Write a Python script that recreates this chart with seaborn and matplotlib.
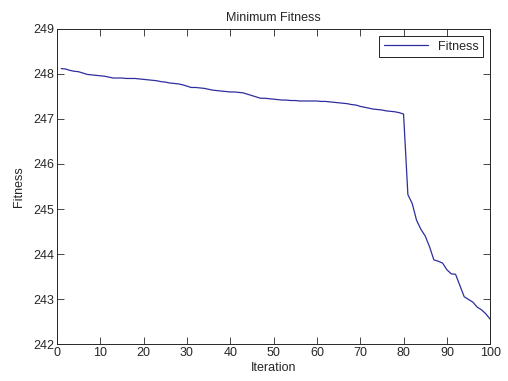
import numpy as np
import pandas as pd
import seaborn as sns
import matplotlib.pyplot as plt

# minimum fitness per iteration
iterations = list(range(1, 101))
fitness = [
    248.12, 248.11, 248.08, 248.06, 248.05, 248.02, 247.99, 247.98, 247.97, 247.96,
    247.95, 247.93, 247.91, 247.91, 247.91, 247.90, 247.90, 247.90, 247.89, 247.88,
    247.87, 247.86, 247.85, 247.83, 247.82, 247.80, 247.79, 247.78, 247.76, 247.73,
    247.70, 247.70, 247.69, 247.68, 247.66, 247.64, 247.63, 247.62, 247.61, 247.60,
    247.60, 247.59, 247.58, 247.55, 247.52, 247.49, 247.46, 247.46, 247.45, 247.44,
    247.43, 247.42, 247.42, 247.41, 247.41, 247.40, 247.40, 247.40, 247.40, 247.40,
    247.39, 247.39, 247.38, 247.37, 247.36, 247.35, 247.34, 247.32, 247.31, 247.28,
    247.26, 247.24, 247.22, 247.21, 247.20, 247.18, 247.17, 247.16, 247.14, 247.11,
    245.32, 245.12, 244.75, 244.55, 244.40, 244.16, 243.87, 243.84, 243.80, 243.65,
    243.56, 243.55, 243.30, 243.05, 242.99, 242.93, 242.82, 242.76, 242.67, 242.55,
]
x_ticks = [0, 10, 20, 30, 40, 50, 60, 70, 80, 90, 100]
y_ticks = [242, 243, 244, 245, 246, 247, 248, 249]

df = pd.DataFrame({"Iteration": iterations, "Fitness": fitness})

sns.set_style("ticks")
plt.rcParams["font.family"] = ["Liberation Sans", "DejaVu Sans"]

fig = plt.figure(figsize=(5.08, 3.81), dpi=100)
ax = fig.add_axes([0.112, 0.097, 0.853, 0.827])

sns.lineplot(data=df, x="Iteration", y="Fitness", ax=ax, color="#2e2e9e",
             linewidth=0.9, label="Fitness")

ax.set_xlim(0, 100)
ax.set_ylim(242, 249)
ax.set_xticks(x_ticks)
ax.set_yticks(y_ticks)
ax.tick_params(direction="in", top=True, right=True, labelsize=9,
               length=5, width=0.6, pad=2)
for s in ax.spines.values():
    s.set_visible(True)
    s.set_linewidth(0.7)

ax.set_title("Minimum Fitness", fontsize=9, pad=6)
ax.set_xlabel("Iteration", fontsize=9, labelpad=2)
ax.set_ylabel("Fitness", fontsize=9, labelpad=6)

leg = ax.legend(loc="upper right", fontsize=9, fancybox=False,
                edgecolor="black", framealpha=1, handlelength=3.5,
                borderaxespad=0.6, borderpad=0.35)
leg.get_frame().set_linewidth(0.6)

fig.savefig("out.png", dpi=100, facecolor="white")
